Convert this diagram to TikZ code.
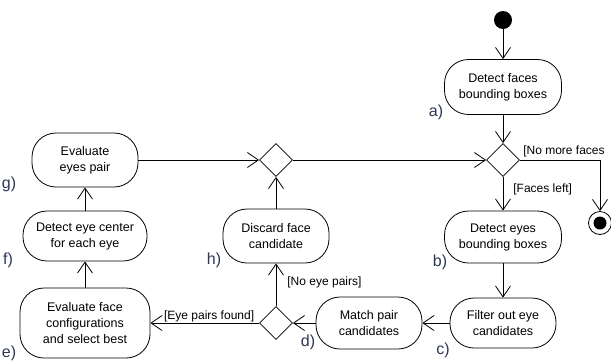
\documentclass[tikz,border=0pt]{standalone}
\usepackage{fontspec}
\setmainfont{Liberation Sans}
\usetikzlibrary{shapes.geometric,arrows.meta}
\definecolor{lblcol}{RGB}{45,55,85}

\begin{document}
\begin{tikzpicture}[x=1pt, y=-1pt,
    every node/.style={font=\fontsize{12.5}{16}\selectfont, align=center},
    act/.style={rectangle, draw=black, line width=0.8pt, rounded corners=24pt, minimum width=106pt, minimum height=52pt, inner sep=2pt},
    dec/.style={diamond, draw=black, line width=0.8pt, minimum width=33pt, minimum height=33pt, inner sep=0pt},
    lbl/.style={font=\fontsize{16}{16}\selectfont, text=lblcol, inner sep=0pt},
    guard/.style={font=\fontsize{12}{14}\selectfont, inner sep=1pt},
    arr/.style={-{Straight Barb[length=11pt,width=15pt]}, line width=0.8pt}
]
\useasboundingbox (0,0) rectangle (611,360);

% right column
\node[circle, fill=black, minimum size=18pt, inner sep=0pt] (start) at (503,20) {};
\node[act, minimum width=117pt, minimum height=55pt] (detfaces) at (503,87) {Detect faces\\bounding boxes};
\node[dec] (decface) at (503,160) {};
\node[act, minimum width=117pt] (deteyes) at (503,237) {Detect eyes\\bounding boxes};
\node[act, minimum height=50pt] (filter) at (503,323) {Filter out eye\\candidates};
\node[circle, draw=black, line width=0.8pt, fill=white, minimum size=23pt, inner sep=0pt] (stop) at (600,223) {};
\node[circle, fill=black, minimum size=13pt, inner sep=0pt] (stopin) at (stop) {};

% middle column
\node[act] (match) at (369,323) {Match pair\\candidates};
\node[dec] (decpair) at (276,323) {};
\node[act, minimum height=54pt] (discard) at (276,236) {Discard face\\candidate};
\node[dec] (merge) at (276,160) {};

% left column
\node[act, minimum width=130pt, minimum height=70pt] (evalface) at (85,323) {Evaluate face\\configurations\\and select best};
\node[act, minimum width=124pt, minimum height=50pt] (detcenter) at (85,236) {Detect eye center\\for each eye};
\node[act, minimum height=54pt] (evalpair) at (85,160) {Evaluate\\eyes pair};

% step letters
\node[lbl] (la) at (436,112) {a)};
\node[lbl] (lb) at (440,262) {b)};
\node[lbl] (lc) at (443,350) {c)};
\node[lbl] (ld) at (308,342) {d)};
\node[lbl] (le) at (9,353) {e)};
\node[lbl] (lf) at (8,260) {f)};
\node[lbl] (lg) at (9,184) {g)};
\node[lbl] (lh) at (214,260) {h)};

% flow
\draw[arr] (start) -- (detfaces);
\draw[arr] (detfaces) -- (decface);
\draw[arr] (decface.east) -| node[guard, pos=0, anchor=south west, xshift=2pt, yshift=2pt]{[No more faces} (stop.north);
\draw[arr] (decface.south) -- node[guard, pos=0.37, anchor=west, xshift=9pt]{[Faces left]} (deteyes.north);
\draw[arr] (deteyes) -- (filter);
\draw[arr] (filter) -- (match);
\draw[arr] (match) -- (decpair.east);
\draw[arr] (decpair.north) -- node[guard, pos=0.55, anchor=west, xshift=10pt]{[No eye pairs]} (discard.south);
\draw[arr] (decpair.west) -- node[guard, pos=0.46, above]{[Eye pairs found]} (evalface.east);
\draw[arr] (evalface) -- (detcenter);
\draw[arr] (detcenter) -- (evalpair);
\draw[arr] (evalpair.east) -- (merge.west);
\draw[arr] (discard.north) -- (merge.south);
\draw[arr] (merge.east) -- (decface.west);
\end{tikzpicture}
\end{document}
